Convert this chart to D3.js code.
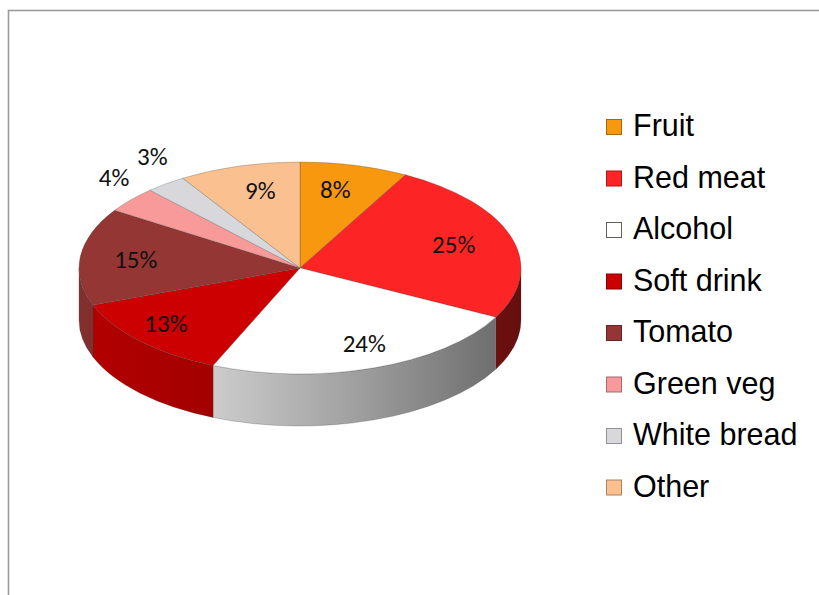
<!DOCTYPE html>
<html>
<head>
<meta charset="utf-8">
<script src="https://cdn.jsdelivr.net/npm/d3@7"></script>
<style>
  html, body { margin: 0; padding: 0; background: #fff; overflow: hidden; }
</style>
</head>
<body>
<svg id="chart" width="819" height="595"></svg>
<script>
// Share of intake by food group (percent)
const categories = ["Fruit", "Red meat", "Alcohol", "Soft drink", "Tomato", "Green veg", "White bread", "Other"];
const shares = [8, 25, 24, 13, 15, 4, 3, 9];
const palette = ["#f7980f", "#fc2424", "#ffffff", "#cc0000", "#943634", "#f89a9a", "#d8d8dc", "#fac08f"];

const W = 819, H = 595;
const svg = d3.select("#chart");

// chart frame (open at right and bottom)
svg.append("rect")
  .attr("x", 8.5).attr("y", 10.5)
  .attr("width", W).attr("height", H)
  .attr("fill", "#fff")
  .attr("stroke", "#9a9a9a")
  .attr("stroke-width", 1.6);

// tilted pie geometry
const cx = 300, cy = 268, rx = 221, ry = 106, depth = 52;
const data = categories.map((c, i) => ({ name: c, v: shares[i], color: palette[i] }));
const arcs = d3.pie().sort(null).value(d => d.v)(data);

const pt = (a, k = 1) => [cx + rx * k * Math.sin(a), cy - ry * k * Math.cos(a)];

function topPath(a0, a1) {
  const p0 = pt(a0), p1 = pt(a1);
  const large = (a1 - a0) > Math.PI ? 1 : 0;
  return `M${cx},${cy}L${p0[0]},${p0[1]}A${rx},${ry} 0 ${large} 1 ${p1[0]},${p1[1]}Z`;
}

function sidePath(a0, a1) {
  const s0 = Math.max(a0, Math.PI / 2), s1 = Math.min(a1, 3 * Math.PI / 2);
  if (s1 <= s0) return null;
  const p0 = pt(s0), p1 = pt(s1);
  return `M${p0[0]},${p0[1]}A${rx},${ry} 0 0 1 ${p1[0]},${p1[1]}` +
         `L${p1[0]},${p1[1] + depth}A${rx},${ry} 0 0 0 ${p0[0]},${p0[1] + depth}Z`;
}

// side shading: lighter on the left, darker towards the right
const defs = svg.append("defs");
const shade = defs.append("linearGradient")
  .attr("id", "shade")
  .attr("gradientUnits", "userSpaceOnUse")
  .attr("x1", cx - rx).attr("y1", 0)
  .attr("x2", cx + rx).attr("y2", 0);
[[0, 0.12], [0.3, 0.2], [0.6, 0.36], [1, 0.6]].forEach(([o, a]) =>
  shade.append("stop").attr("offset", o).attr("stop-color", "#000").attr("stop-opacity", a));

const sides = svg.append("g");
arcs.forEach(d => {
  const p = sidePath(d.startAngle, d.endAngle);
  if (!p) return;
  sides.append("path").attr("d", p).attr("fill", d.data.color);
  sides.append("path").attr("d", p).attr("fill", "url(#shade)")
    .attr("stroke", "rgba(60,60,60,0.35)").attr("stroke-width", 0.7);
});

const tops = svg.append("g");
tops.selectAll("path").data(arcs).join("path")
  .attr("d", d => topPath(d.startAngle, d.endAngle))
  .attr("fill", d => d.data.color)
  .attr("stroke", "rgba(70,70,70,0.35)")
  .attr("stroke-width", 0.8)
  .attr("stroke-linejoin", "round");

// percentage labels
const labelPos = d => {
  const m = (d.startAngle + d.endAngle) / 2;
  if (d.data.v < 5) {
    return [cx + rx * 1.1 * Math.sin(m), cy - ry * 1.32 * Math.cos(m)];
  }
  const k = 0.76;
  const persp = 1 - 0.15 * Math.cos(m);
  return [cx + rx * k * Math.sin(m) * persp, cy - ry * k * Math.cos(m)];
};

svg.append("g").selectAll("text").data(arcs).join("text")
  .attr("x", d => labelPos(d)[0])
  .attr("y", d => labelPos(d)[1])
  .attr("text-anchor", "middle")
  .attr("dominant-baseline", "central")
  .attr("font-family", "Carlito, Calibri, Lato, sans-serif")
  .attr("font-size", 25)
  .attr("fill", "#111")
  .text(d => d.data.v + "%");

// legend
const legend = svg.append("g").attr("transform", "translate(606,119)");
const rowStep = 51.5;
const rows = legend.selectAll("g").data(data).join("g")
  .attr("transform", (d, i) => `translate(0,${i * rowStep})`);
rows.append("rect")
  .attr("x", 0.5).attr("y", 0.5)
  .attr("width", 15).attr("height", 15)
  .attr("fill", d => d.color)
  .attr("stroke", d => d3.color(d.color === "#ffffff" ? "#8a9080" : d.color).darker(1.1))
  .attr("stroke-width", 1);
rows.append("text")
  .attr("x", 27).attr("y", 17)
  .attr("font-family", "Liberation Sans, Arial, sans-serif")
  .attr("font-size", 30.5)
  .attr("fill", "#000")
  .text(d => d.name);
</script>
</body>
</html>
